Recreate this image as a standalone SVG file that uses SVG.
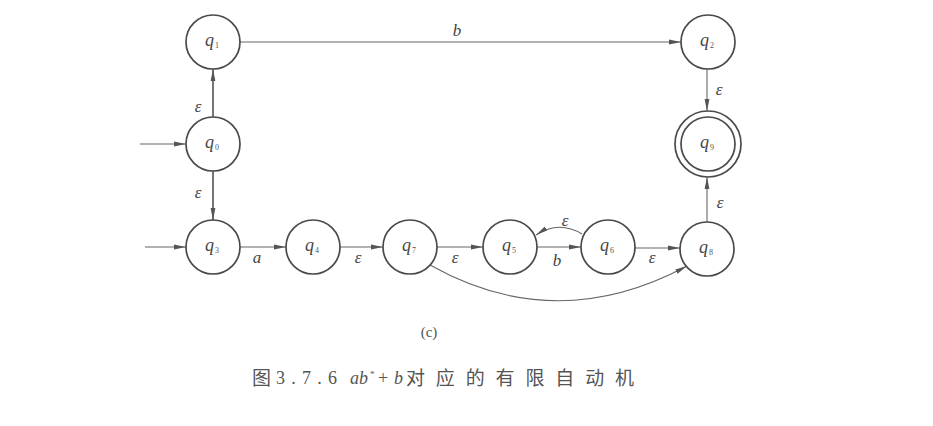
<svg xmlns="http://www.w3.org/2000/svg" width="933" height="426" viewBox="0 0 933 426">
<defs>
<marker id="ah" viewBox="0 0 12 6" refX="12" refY="3" markerWidth="12" markerHeight="6" markerUnits="userSpaceOnUse" orient="auto">
<path d="M0,0.6 L12,3 L0,5.4 Z" fill="#555"/>
</marker>
<style>
.st{fill:none;stroke:#4a4a4a;stroke-width:1.7}
.e{fill:none;stroke:#666;stroke-width:1.1;marker-end:url(#ah)}
.ek{fill:none;stroke:#555;stroke-width:1.6;marker-end:url(#ah)}
.q{font-family:"Liberation Serif",serif;font-style:italic;font-size:18px;fill:#444}
.sub{font-family:"Liberation Serif",serif;font-size:8px;fill:#555}
.lb{font-family:"Liberation Serif",serif;font-style:italic;font-size:17px;fill:#444;text-anchor:middle}
.cap{font-family:"Liberation Serif",serif;font-size:18px;fill:#555}
.cjk{font-family:"Noto Sans CJK SC",sans-serif;font-size:19px;fill:#555}
</style>
</defs>
<rect width="933" height="426" fill="#fff"/>
<g id="connectors">
<line class="e" x1="240" y1="42" x2="681" y2="42"/>
<line class="ek" x1="213" y1="117" x2="213" y2="69"/>
<line class="ek" x1="213" y1="171" x2="213" y2="220"/>
<line class="e" x1="140" y1="144" x2="186" y2="144"/>
<line class="e" x1="145" y1="247" x2="186" y2="247"/>
<line class="e" x1="240" y1="247" x2="286" y2="247"/>
<line class="e" x1="340" y1="247" x2="383" y2="247"/>
<line class="e" x1="437" y1="247" x2="483" y2="247"/>
<line class="e" x1="537" y1="247" x2="581" y2="247"/>
<line class="e" x1="635" y1="248" x2="680" y2="248"/>
<line class="e" x1="707" y1="222" x2="707" y2="177"/>
<line class="e" x1="707" y1="69" x2="707" y2="111"/>
<path class="e" d="M582,234 Q559,220 536,235"/>
<path class="e" d="M430,265 Q556,336 687,266"/>
<text class="lb" x="457" y="36">b</text>
<text class="lb" x="198" y="112">ε</text>
<text class="lb" x="198" y="198">ε</text>
<text class="lb" x="257" y="263">a</text>
<text class="lb" x="358" y="263">ε</text>
<text class="lb" x="455" y="263">ε</text>
<text class="lb" x="557" y="266">b</text>
<text class="lb" x="652" y="263">ε</text>
<text class="lb" x="565" y="226">ε</text>
<text class="lb" x="720" y="208">ε</text>
<text class="lb" x="719" y="95">ε</text>
</g>
<g id="q0"><circle class="st" cx="213" cy="144" r="27"/><text class="q" x="205" y="148">q</text><text class="sub" x="215" y="150">0</text></g>
<g id="q1"><circle class="st" cx="213" cy="42" r="27"/><text class="q" x="205" y="46">q</text><text class="sub" x="215" y="48">1</text></g>
<g id="q2"><circle class="st" cx="708" cy="42" r="27"/><text class="q" x="700" y="46">q</text><text class="sub" x="710" y="48">2</text></g>
<g id="q3"><circle class="st" cx="213" cy="247" r="27"/><text class="q" x="205" y="251">q</text><text class="sub" x="215" y="253">3</text></g>
<g id="q4"><circle class="st" cx="313" cy="247" r="27"/><text class="q" x="305" y="251">q</text><text class="sub" x="315" y="253">4</text></g>
<g id="q7"><circle class="st" cx="410" cy="247" r="27"/><text class="q" x="402" y="251">q</text><text class="sub" x="412" y="253">7</text></g>
<g id="q5"><circle class="st" cx="510" cy="247" r="27"/><text class="q" x="502" y="251">q</text><text class="sub" x="512" y="253">5</text></g>
<g id="q6"><circle class="st" cx="608" cy="247" r="27"/><text class="q" x="600" y="251">q</text><text class="sub" x="610" y="253">6</text></g>
<g id="q8"><circle class="st" cx="707" cy="249" r="27"/><text class="q" x="699" y="253">q</text><text class="sub" x="709" y="255">8</text></g>
<g id="q9"><circle class="st" cx="708" cy="144" r="33"/><circle class="st" cx="708" cy="144" r="27"/><text class="q" x="700" y="148">q</text><text class="sub" x="710" y="150">9</text></g>
<g id="captions">
<text x="429" y="337" font-family="Liberation Serif,serif" font-size="15" fill="#555" text-anchor="middle">(c)</text>
<text class="cjk" x="252" y="385">图</text>
<text class="cap" x="276" y="384" textLength="61" lengthAdjust="spacing">3.7.6</text>
<text class="cap" x="350" y="384" style="font-style:italic">ab</text>
<text class="cap" x="370" y="377" style="font-size:9px">*</text>
<text class="cap" x="378" y="384">+</text>
<text class="cap" x="394" y="384" style="font-style:italic">b</text>
<text class="cjk" x="406" y="385" textLength="228" lengthAdjust="spacing">对应的有限自动机</text>
</g>
</svg>
